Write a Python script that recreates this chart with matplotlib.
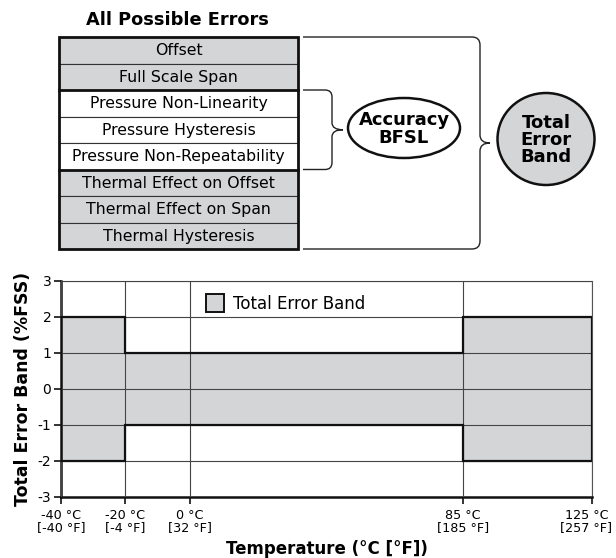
import matplotlib
matplotlib.use("Agg")
import matplotlib.pyplot as plt
from matplotlib.patches import Rectangle, Ellipse, PathPatch
from matplotlib.path import Path

# error terms listed in the block diagram, top to bottom
ERROR_TERMS = ["Offset", "Full Scale Span", "Pressure Non-Linearity",
               "Pressure Hysteresis", "Pressure Non-Repeatability",
               "Thermal Effect on Offset", "Thermal Effect on Span",
               "Thermal Hysteresis"]
TERM_IN_BFSL = [False, False, True, True, True, False, False, False]

# total error band vs temperature
TEMP_EDGES = [-40, -20, 85, 125]
BAND_UPPER = [2, 1, 2]
BAND_LOWER = [-2, -1, -2]
X_TICKS_C = [-40, -20, 0, 85, 125]
X_TICKS_F = [-40, -4, 32, 185, 257]
Y_TICKS = [-3, -2, -1, 0, 1, 2, 3]

GRAY = "#d4d5d7"
W, H = 616, 558

plt.rcParams["font.family"] = ["DejaVu Sans"]
fig = plt.figure(figsize=(W / 100, H / 100), dpi=100)

# ---- block diagram, drawn in pixel coordinates ----
dg = fig.add_axes([0, 0, 1, 1])
dg.set_xlim(0, W)
dg.set_ylim(H, 0)
dg.set_axis_off()

tx0, tx1, ty0, ty1 = 59, 298, 37, 249
rh = (ty1 - ty0) / len(ERROR_TERMS)
dg.text((tx0 + tx1) / 2 - 1, 20, "All Possible Errors", ha="center", va="center",
        fontsize=12.8, fontweight="bold")
for i, (term, bfsl) in enumerate(zip(ERROR_TERMS, TERM_IN_BFSL)):
    y = ty0 + i * rh
    dg.add_patch(Rectangle((tx0, y), tx1 - tx0, rh, facecolor="white" if bfsl else GRAY,
                           edgecolor="#333333", lw=0.8))
    dg.text((tx0 + tx1) / 2, y + rh / 2 + 0.5, term, ha="center", va="center",
            fontsize=11.3)
# thick group borders
dg.add_patch(Rectangle((tx0, ty0), tx1 - tx0, ty1 - ty0, fill=False,
                       edgecolor="#111111", lw=2))
for k in (2, 5):
    dg.plot([tx0, tx1], [ty0 + k * rh] * 2, color="#111111", lw=2)


def brace(x0, x1, y0, y1, xt, r):
    ym = (y0 + y1) / 2
    verts = [(x0, y0), (x1 - r, y0), (x1, y0), (x1, y0 + r), (x1, ym - r),
             (x1, ym), (xt, ym), (x1, ym), (x1, ym + r), (x1, y1 - r),
             (x1, y1), (x1 - r, y1), (x0, y1)]
    codes = [Path.MOVETO, Path.LINETO, Path.CURVE3, Path.CURVE3, Path.LINETO,
             Path.CURVE3, Path.CURVE3, Path.CURVE3, Path.CURVE3, Path.LINETO,
             Path.CURVE3, Path.CURVE3, Path.LINETO]
    dg.add_patch(PathPatch(Path(verts, codes), fill=False, edgecolor="#222222", lw=1.0))


brace(303, 480, ty0, ty1, 490, 8)
brace(303, 332, ty0 + 2 * rh, ty0 + 5 * rh, 343, 7)

dg.add_patch(Ellipse((404, 128), 112, 60, facecolor="white", edgecolor="#111111", lw=1.8))
dg.text(404, 129, "Accuracy\nBFSL", ha="center", va="center", fontsize=13,
        fontweight="bold", linespacing=0.95)
dg.add_patch(Ellipse((546, 139), 97, 92, facecolor=GRAY, edgecolor="#111111", lw=1.8))
dg.text(546, 140, "Total\nError\nBand", ha="center", va="center", fontsize=13,
        fontweight="bold", linespacing=0.95)

# ---- total error band chart ----
axl, axr, axt, axb = 61, 592, 281, 497
ax = fig.add_axes([axl / W, (H - axb) / H, (axr - axl) / W, (axb - axt) / H])
ax.stairs(BAND_UPPER, TEMP_EDGES, baseline=BAND_LOWER, fill=True,
          facecolor=GRAY, edgecolor="none", zorder=1)
ax.stairs(BAND_UPPER, TEMP_EDGES, baseline=BAND_LOWER, fill=True,
          facecolor="none", edgecolor="#111111", lw=1.6, zorder=3)
ax.set_xlim(TEMP_EDGES[0], TEMP_EDGES[-1])
ax.set_ylim(Y_TICKS[0], Y_TICKS[-1])
ax.set_xticks(X_TICKS_C)
ax.set_xticklabels([])
# two-line tick labels drawn by hand so the last one can sit inside the edge
for c, f in zip(X_TICKS_C, X_TICKS_F):
    dx = -4 if c == X_TICKS_C[-1] else 0
    ax.annotate(f"{c} °C\n[{f} °F]", xy=(c, 0), xycoords=ax.get_xaxis_transform(),
                xytext=(dx, -8.5), textcoords="offset points", ha="center", va="top",
                fontsize=9.2, linespacing=0.95, annotation_clip=False)
ax.set_yticks(Y_TICKS)
ax.set_yticklabels([str(v) for v in Y_TICKS], fontsize=10)
ax.tick_params(direction="out", length=5, width=1.2, color="#111111", pad=2)
ax.grid(True, color="#444444", lw=0.8, zorder=2)
ax.set_axisbelow(False)
for s in ("left", "bottom"):
    ax.spines[s].set_linewidth(1.8)
    ax.spines[s].set_color("#111111")
for s in ("top", "right"):
    ax.spines[s].set_linewidth(0.8)
    ax.spines[s].set_color("#555555")
ax.set_xlabel("Temperature (°C [°F])", fontsize=12, fontweight="bold")
ax.xaxis.set_label_coords(0.5, -0.197)
ax.set_ylabel("Total Error Band (%FSS)", fontsize=12.5, fontweight="bold", labelpad=4)
leg_patch = Rectangle((0, 0), 1, 1, facecolor=GRAY, edgecolor="#111111", lw=1.4)
ax.legend([leg_patch], ["Total Error Band"], loc="upper left",
          bbox_to_anchor=(0.245, 1.01), frameon=False, fontsize=12,
          handlelength=1.1, handleheight=1.3, handletextpad=0.5)

fig.savefig("out.png", dpi=100)
